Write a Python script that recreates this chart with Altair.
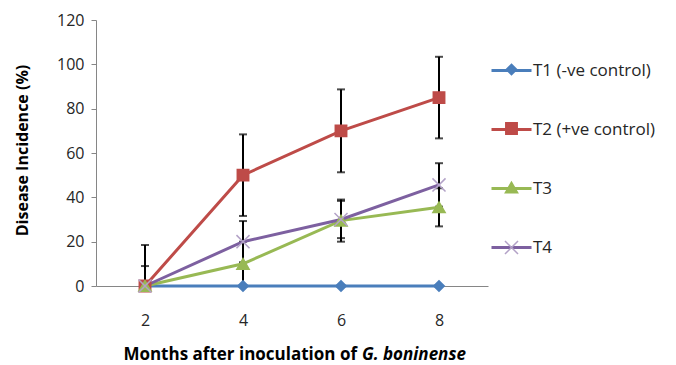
import altair as alt
import pandas as pd

months = [2, 4, 6, 8]
series = ["T1 (-ve control)", "T2 (+ve control)", "T3", "T4"]
t1 = [0, 0, 0, 0]
t2 = [0, 50, 70, 85]
t3 = [0, 10, 29.5, 35.5]
t4 = [0, 20, 30, 45.6]
e1 = [0, 0, 0, 0]
e2 = [18.5, 18.4, 18.7, 18.4]
e3 = [0, 10, 9.5, 8.6]
e4 = [9, 9.3, 8.4, 9.8]
colors = ["#4A7EBB", "#BE4B48", "#98B954", "#7D60A0"]
marker_strokes = ["#4A7EBB", "#BE4B48", "#98B954", "#B3A2C7"]
shapes = ["diamond", "square", "triangle-up", "M-1,-1L1,1M-1,1L1,-1"]
marker_sizes = [110, 170, 130, 110]
title_a = "Months after inoculation of"
title_b = "G. boninense"
y_title = "Disease Incidence (%)"

rows = []
for name, vals, errs in zip(series, [t1, t2, t3, t4], [e1, e2, e3, e4]):
    for m, v, e in zip(months, vals, errs):
        rows.append({"month": m, "series": name, "s2": name, "value": v,
                     "err": e, "lo": v - e, "hi": v + e})
df = pd.DataFrame(rows)

FONT = "Open Sans"
TXT = "#262626"
LBL = 16
TTL = 17

x = alt.X("month:O", scale=alt.Scale(type="point", padding=0.5),
          axis=alt.Axis(labelAngle=0, ticks=False, title=None, labelFontSize=LBL,
                        labelFont=FONT, labelColor=TXT, labelPadding=26,
                        domainColor="#868686", domainWidth=1))
y_scale = alt.Scale(domain=[0, 120])

base = alt.Chart(df)

err = base.transform_filter("datum.err > 0")
rules = err.mark_rule(color="black", strokeWidth=2, clip=True).encode(
    x=x,
    y=alt.Y("lo:Q", scale=y_scale,
            axis=alt.Axis(values=[0, 20, 40, 60, 80, 100, 120], grid=False,
                          domainColor="#868686", tickColor="#868686", tickSize=5,
                          labelFontSize=LBL, labelFont=FONT, labelColor=TXT,
                          labelPadding=7, title=y_title, titleFont=FONT,
                          titleFontSize=16, titleFontWeight="bold", titleColor="black",
                          titleX=-66, titleY=130)),
    y2="hi:Q",
)
caps_hi = err.mark_tick(color="black", thickness=2, size=8, clip=True).encode(
    x=x, y=alt.Y("hi:Q", scale=y_scale))
caps_lo = err.mark_tick(color="black", thickness=2, size=8, clip=True).encode(
    x=x, y=alt.Y("lo:Q", scale=y_scale))

lines = base.mark_line(strokeWidth=3).encode(
    x=x,
    y=alt.Y("value:Q", scale=y_scale),
    color=alt.Color("series:N", scale=alt.Scale(range=colors),
                    legend=alt.Legend(orient="none", legendX=394, legendY=29,
                                      symbolType="stroke", symbolSize=1600,
                                      symbolStrokeWidth=3, labelFontSize=17,
                                      labelFont=FONT, labelColor=TXT, labelOffset=0,
                                      rowPadding=29, title=None, padding=0)),
    detail="series:N",
)

shape_legend = alt.Legend(orient="none", legendX=408, legendY=42,
                          symbolStrokeWidth=1.5, labelExpr="''",
                          labelFontSize=15,
                          rowPadding=41, title=None, padding=0)

points = base.mark_point(filled=True, strokeWidth=1.5, opacity=1).encode(
    x=x,
    y=alt.Y("value:Q", scale=y_scale),
    fill=alt.Fill("s2:N", scale=alt.Scale(range=colors), legend=None),
    stroke=alt.Stroke("s2:N", scale=alt.Scale(range=marker_strokes), legend=None),
    size=alt.Size("s2:N", scale=alt.Scale(range=marker_sizes), legend=shape_legend),
    shape=alt.Shape("s2:N", scale=alt.Scale(range=shapes), legend=shape_legend),
)

ta = alt.Chart(pd.DataFrame({"t": [title_a]})).mark_text(
    align="right", baseline="middle", font=FONT, fontSize=TTL, fontWeight="bold",
    color="black").encode(text="t:N", x=alt.value(261), y=alt.value(335))
tb = alt.Chart(pd.DataFrame({"t": [title_b]})).mark_text(
    align="left", baseline="middle", font=FONT, fontSize=TTL, fontWeight="bold",
    fontStyle="italic", color="black").encode(text="t:N", x=alt.value(266), y=alt.value(335))

chart = alt.layer(rules, caps_hi, caps_lo, lines, points, ta, tb).resolve_scale(
    color="independent", fill="independent", stroke="independent",
    shape="independent", size="independent"
).properties(
    width=392, height=266,
    autosize=alt.AutoSizeParams(type="none"),
    padding={"left": 88, "top": 12, "right": 180, "bottom": 79},
    background="white",
).configure_view(stroke=None)

chart.save("out.html", embed_options={"renderer": "svg", "actions": False})
